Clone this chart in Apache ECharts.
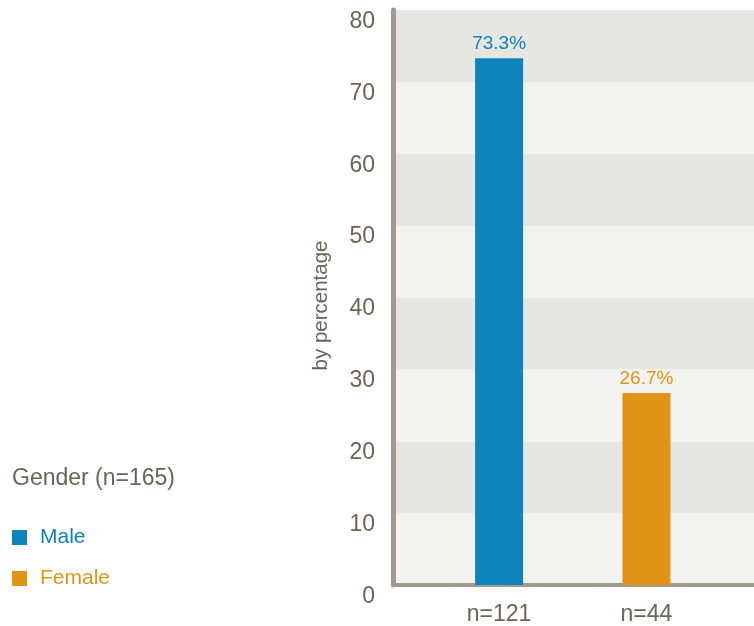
<!DOCTYPE html>
<html>
<head>
<meta charset="utf-8">
<script src="https://cdn.jsdelivr.net/npm/echarts@6/dist/echarts.min.js"></script>
<style>
  html, body { margin: 0; padding: 0; background: #fff; }
  #chart { width: 754px; height: 626px; }
</style>
</head>
<body>
<div id="chart"></div>
<script>
const categories = ["n=121", "n=44"];
const seriesNames = ["Male", "Female"];
const values = [73.3, 26.7];
const colors = ["#0e84bd", "#e09417"];
const yTicks = [0, 10, 20, 30, 40, 50, 60, 70, 80];

const textColor = "#6b6457";
const font = "Liberation Sans, Arial, sans-serif";

const initChart = () => {
    const myChart = echarts.init(document.getElementById("chart"));

    const series = seriesNames.map((name, i) => ({
        name: name,
        type: "bar",
        stack: "all",
        barWidth: 48,
        data: [[i, values[i]]],
        itemStyle: { color: colors[i] },
        label: {
            show: true,
            position: "top",
            distance: 5,
            color: colors[i],
            fontFamily: font,
            fontSize: 19,
            formatter: (p) => p.value[1].toFixed(1) + "%"
        }
    }));

    const option = {
        animation: false,
        backgroundColor: "#ffffff",
        title: {
            text: "Gender (n=165)",
            left: 7,
            top: 462,
            textStyle: { color: textColor, fontFamily: font, fontSize: 23, fontWeight: "normal" }
        },
        legend: {
            orient: "vertical",
            left: 7,
            top: 522,
            icon: "rect",
            itemWidth: 15,
            itemHeight: 15,
            itemGap: 20,
            data: seriesNames.map((n, i) => ({
                name: n,
                textStyle: { color: colors[i] }
            })),
            textStyle: { fontFamily: font, fontSize: 21, padding: [0, 0, 0, 8] }
        },
        grid: { left: 393, right: -2, top: 10, bottom: 41, containLabel: false },
        xAxis: {
            type: "value",
            min: -0.72,
            max: 1.73,
            splitLine: { show: false },
            axisLine: { show: true, onZero: false, lineStyle: { color: "#a39a8d", width: 4 } },
            axisTick: { show: false },
            axisLabel: {
                customValues: [0, 1],
                formatter: (v) => categories[Math.round(v)] || "",
                color: textColor,
                fontFamily: font,
                fontSize: 23,
                margin: 18
            }
        },
        yAxis: {
            type: "value",
            min: 0,
            max: 80,
            interval: 10,
            name: "by percentage",
            nameLocation: "middle",
            nameGap: 61,
            nameTextStyle: { color: textColor, fontFamily: font, fontSize: 20.5, padding: [0, 16, 0, 0] },
            axisLine: { show: true, onZero: false, lineStyle: { color: "#a39a8d", width: 5 } },
            axisTick: { show: false },
            splitLine: { show: false },
            splitArea: { show: true, areaStyle: { color: ["#f2f2f0", "#e6e6e2"] } },
            axisLabel: {
                customValues: yTicks,
                color: textColor,
                fontFamily: font,
                fontSize: 23,
                margin: 18,
                verticalAlign: "top"
            }
        },
        series: series
    };

    myChart.setOption(option);
    myChart.resize();
};

window.addEventListener("load", () => {
    initChart();
});
</script>
</body>
</html>
